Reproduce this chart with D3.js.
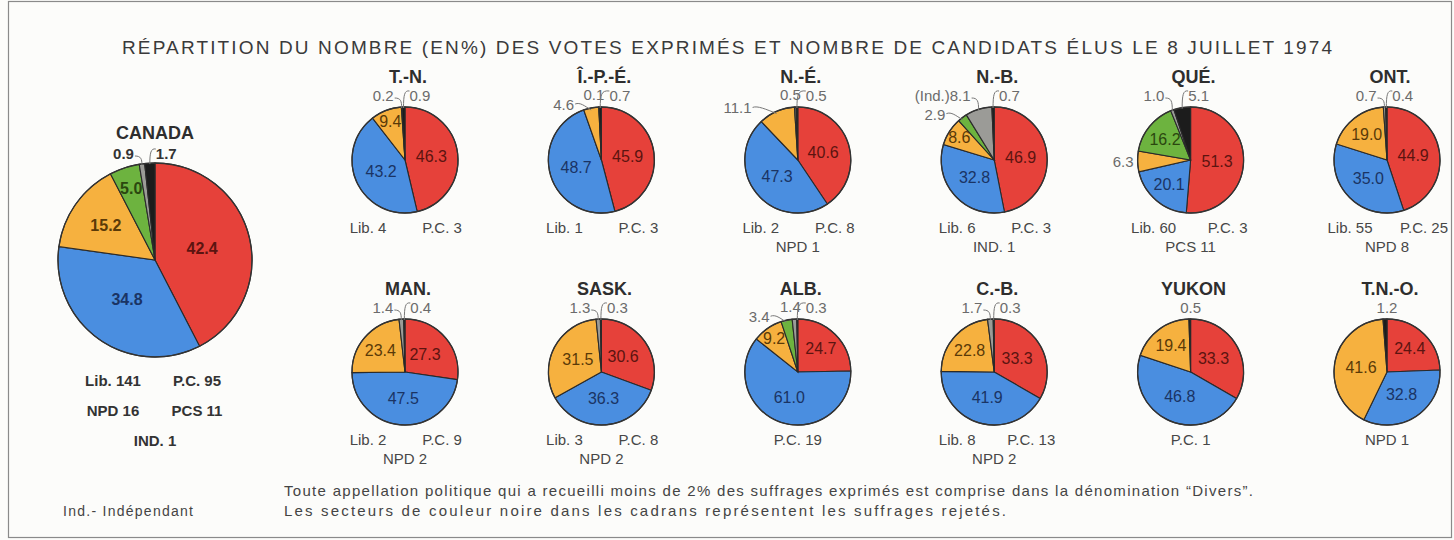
<!DOCTYPE html>
<html lang="fr">
<head>
<meta charset="utf-8">
<script src="https://d3js.org/d3.v7.min.js"></script>
<style>
  body { margin: 0; background: #fcfcfa; }
  svg { display: block; font-family: "Liberation Sans", Arial, sans-serif; }
</style>
</head>
<body>
<svg id="chart" width="1454" height="540"></svg>
<script>
// --- data ---
const regions = ["CANADA", "T.-N.", "Î.-P.-É.", "N.-É.", "N.-B.", "QUÉ.", "ONT.",
                 "MAN.", "SASK.", "ALB.", "C.-B.", "YUKON", "T.N.-O."];
const parties = ["Lib.", "P.C.", "NPD", "PCS", "Divers", "Rejetés"];

const libVotes      = [42.4, 46.3, 45.9, 40.6, 46.9, 51.3, 44.9, 27.3, 30.6, 24.7, 33.3, 33.3, 24.4];
const pcVotes       = [34.8, 43.2, 48.7, 47.3, 32.8, 20.1, 35.0, 47.5, 36.3, 61.0, 41.9, 46.8, 32.8];
const npdVotes      = [15.2,  9.4,  4.6, 11.1,  8.6,  6.3, 19.0, 23.4, 31.5,  9.2, 22.8, 19.4, 41.6];
const pcsVotes      = [ 5.0,  0,    0,    0,    2.9, 16.2,  0,    0,    0,    3.4,  0,    0,    0  ];
const diversVotes   = [ 0.9,  0.2,  0.1,  0.5,  8.1,  1.0,  0.7,  1.4,  1.3,  1.4,  1.7,  0,    0  ];
const rejectedVotes = [ 1.7,  0.9,  0.7,  0.5,  0.7,  5.1,  0.4,  0.4,  0.3,  0.3,  0.3,  0.5,  1.2];

// seats won, one array per region, line by line
const seatLines = [
  [["Lib. 141", "P.C. 95"], ["NPD 16", "PCS 11"], ["IND. 1"]],
  [["Lib. 4", "P.C. 3"]],
  [["Lib. 1", "P.C. 3"]],
  [["Lib. 2", "P.C. 8"], ["NPD 1"]],
  [["Lib. 6", "P.C. 3"], ["IND. 1"]],
  [["Lib. 60", "P.C. 3"], ["PCS 11"]],
  [["Lib. 55", "P.C. 25"], ["NPD 8"]],
  [["Lib. 2", "P.C. 9"], ["NPD 2"]],
  [["Lib. 3", "P.C. 8"], ["NPD 2"]],
  [["P.C. 19"]],
  [["Lib. 8", "P.C. 13"], ["NPD 2"]],
  [["P.C. 1"]],
  [["NPD 1"]]
];
const diversPrefix = ["", "", "", "", "(Ind.)", "", "", "", "", "", "", "", ""];

const title = "RÉPARTITION DU NOMBRE (EN%) DES VOTES EXPRIMÉS ET NOMBRE  DE CANDIDATS ÉLUS LE 8 JUILLET 1974";
const notes = [
  "Toute appellation politique qui a recueilli moins de 2%   des suffrages exprimés est comprise dans la dénomination \u201cDivers\u201d.",
  "Les secteurs de couleur noire dans les cadrans représentent les suffrages rejetés."
];
const legendNote = "Ind.- Indépendant";

// --- drawing ---
const svg = d3.select("#chart");
const color = d3.scaleOrdinal().domain(parties)
  .range(["#e6413a", "#4a8ee0", "#f6b13f", "#6db33f", "#9b9b97", "#1c1c1c"]);
const textColor = d3.scaleOrdinal().domain(parties)
  .range(["#5c1410", "#1a3464", "#5a3a08", "#2b470f", "#555", "#fff"]);

// slices whose numbers sit outside the pie with a leader
const outsideNpd = ["N.-É.", "QUÉ."];

svg.append("rect").attr("x", 8.5).attr("y", 1.5).attr("width", 1443).attr("height", 536)
  .attr("fill", "none").attr("stroke", "#8a8a8a").attr("stroke-width", 1.2);

svg.append("text").attr("x", 122).attr("y", 54)
  .attr("textLength", 1210).attr("lengthAdjust", "spacing")
  .style("font-size", "19px").style("fill", "#3a3a3a")
  .text(title);

const colX = d3.scalePoint().domain(d3.range(6)).range([405, 1387]);
const rowY = [160, 372];

const pie = d3.pie().sort(null).value(d => d.value);

function pt(cx, cy, R, a) { return [cx + R * Math.sin(a), cy - R * Math.cos(a)]; }

regions.forEach((name, i) => {
  const big = i === 0;
  const cx = big ? 155 : colX((i - 1) % 6);
  const cy = big ? 260 : rowY[Math.floor((i - 1) / 6)];
  const r = big ? 97 : 53;
  const weight = big ? "bold" : "normal";

  const values = [libVotes[i], pcVotes[i], npdVotes[i], pcsVotes[i], diversVotes[i], rejectedVotes[i]];
  const slices = values.map((v, k) => ({ party: parties[k], value: v })).filter(d => d.value > 0);
  const arcs = pie(slices);
  const arc = d3.arc().innerRadius(0).outerRadius(r);

  const g = svg.append("g");

  g.selectAll("path.slice").data(arcs).join("path")
    .attr("class", "slice")
    .attr("transform", `translate(${cx},${cy})`)
    .attr("d", arc)
    .attr("fill", d => color(d.data.party))
    .attr("stroke", "#2a2a2a").attr("stroke-width", 1.1);
  g.append("circle").attr("cx", cx).attr("cy", cy).attr("r", r)
    .attr("fill", "none").attr("stroke", "#333").attr("stroke-width", 1.3);

  // region name
  g.append("text").attr("x", cx + (big ? 0 : 3)).attr("y", cy - r - (big ? 24 : 24))
    .attr("text-anchor", "middle")
    .style("font-weight", "bold").style("font-size", "18px").style("fill", "#2e2e2e")
    .text(name);

  const mid = d => (d.startAngle + d.endAngle) / 2;
  const isTop = d => d.data.party === "Divers" || d.data.party === "Rejetés";
  const isOutside = d => {
    if (isTop(d)) return true;
    if (d.data.party === "NPD" && outsideNpd.includes(name)) return true;
    return d.data.value < 5;
  };

  // inside labels
  arcs.filter(d => !isOutside(d)).forEach(d => {
    const v = d.data.value;
    const k = v >= 25 ? 0.5 : v >= 12 ? 0.62 : 0.78;
    const [x, y] = pt(cx, cy, r * k, mid(d));
    g.append("text").attr("x", x).attr("y", y + 5.5)
      .attr("text-anchor", "middle")
      .style("font-size", "16px").style("font-weight", weight)
      .style("fill", textColor(d.data.party))
      .text(d3.format(".1f")(v));
  });

  const outColor = big ? "#333" : "#6b6b6b";
  const outSize = "15px";
  const topBase = cy - r - (big ? 4 : 6);
  const gray = arcs.find(d => d.data.party === "Divers");
  const black = arcs.find(d => d.data.party === "Rejetés");
  const side = arcs.filter(d => isOutside(d) && !isTop(d));
  const crowded = side.some(d => mid(d) > 5.5) && gray && gray.data.value < 2;

  // other outside labels (left side)
  side.forEach(d => {
    const a = mid(d);
    const [px, py] = pt(cx, cy, r, a);
    const upper = a > 5.5;
    const lx = upper ? px - (d.data.value > 10 ? 25 : 17) : px - 4;
    const ly = upper ? py + 2 : py + 6;
    g.append("text").attr("x", lx).attr("y", ly).attr("text-anchor", "end")
      .style("font-size", "15px").style("fill", outColor)
      .text(d3.format(".1f")(d.data.value));
    if (upper) {
      g.append("path")
        .attr("d", `M${lx + 1},${ly - 6} C${lx + 6},${ly - 8} ${(lx + px) / 2 + 2},${py - 2} ${px},${py + 2}`)
        .attr("fill", "none").attr("stroke", "#777").attr("stroke-width", 1);
    }
  });

  // labels for tiny slices at 12 o'clock
  let grayEnd = null;
  if (gray) {
    const [px, py] = pt(cx, cy, r, mid(gray));
    const lx = crowded ? cx + 3 : Math.min(cx - 8, px - 8);
    const ly = crowded ? topBase - 1 : topBase;
    grayEnd = lx;
    g.append("text").attr("x", lx).attr("y", ly).attr("text-anchor", "end")
      .style("font-size", outSize).style("font-weight", weight).style("fill", outColor)
      .text(diversPrefix[i] + d3.format(".1f")(gray.data.value));
    if (!crowded) {
      g.append("path")
        .attr("d", `M${lx + 1},${ly - 3} C${px - 1},${ly - 3} ${px},${ly} ${px},${py + 1}`)
        .attr("fill", "none").attr("stroke", "#777").attr("stroke-width", 1);
    }
  }
  if (black) {
    const [px, py] = pt(cx, cy, r, mid(black));
    if (gray) {
      const sx = crowded ? grayEnd + 5 : px + 6;
      g.append("text").attr("x", sx).attr("y", topBase).attr("text-anchor", "start")
        .style("font-size", outSize).style("font-weight", weight).style("fill", outColor)
        .text(d3.format(".1f")(black.data.value));
      g.append("path")
        .attr("d", `M${sx},${topBase - 10} C${px + 1},${topBase - 11} ${px},${topBase - 6} ${px},${py + 1}`)
        .attr("fill", "none").attr("stroke", "#777").attr("stroke-width", 1);
    } else {
      g.append("text").attr("x", cx).attr("y", topBase).attr("text-anchor", "middle")
        .style("font-size", outSize).style("fill", outColor)
        .text(d3.format(".1f")(black.data.value));
    }
  }

  // seats
  const lines = seatLines[i];
  const y0 = cy + r + (big ? 29 : 20);
  const gap = big ? 30 : 19;
  const dx = big ? 42 : 37;
  lines.forEach((ln, j) => {
    const xs = ln.length === 2 ? [cx - dx, cx + dx] : [cx];
    ln.forEach((t, m) => {
      g.append("text").attr("x", xs[m]).attr("y", y0 + j * gap)
        .attr("text-anchor", "middle")
        .style("font-size", "15px").style("font-weight", weight)
        .style("fill", big ? "#333" : "#474747")
        .text(t);
    });
  });
});

// footnotes
svg.append("text").attr("x", 63).attr("y", 516)
  .attr("textLength", 130).attr("lengthAdjust", "spacing")
  .style("font-size", "14px").style("fill", "#444").text(legendNote);
svg.selectAll("text.note").data(notes).join("text")
  .attr("class", "note")
  .attr("x", 284).attr("y", (d, i) => 496 + i * 20)
  .attr("textLength", (d, i) => i === 0 ? 969 : 722).attr("lengthAdjust", "spacing")
  .style("font-size", "15px").style("fill", "#444")
  .text(d => d);
</script>
</body>
</html>
